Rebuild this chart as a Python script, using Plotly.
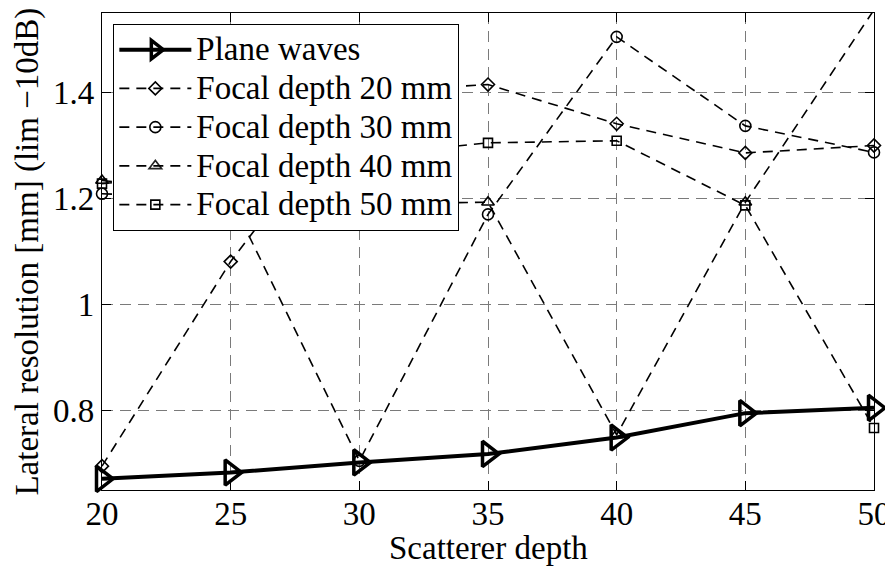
import plotly.graph_objects as go

# Data
depth = [20, 25, 30, 35, 40, 45, 50]
plane_waves = [0.671, 0.683, 0.702, 0.718, 0.749, 0.795, 0.805]
focal_20 = [0.695, 1.081, 1.400, 1.415, 1.341, 1.286, 1.300]
focal_30 = [1.209, 1.200, 0.705, 1.170, 1.505, 1.337, 1.287]
focal_40 = [1.234, 1.210, 1.190, 1.193, 0.754, 1.193, 1.556]
focal_50 = [1.228, 1.250, 1.280, 1.305, 1.309, 1.187, 0.767]

series_names = ["Plane waves", "Focal depth 20 mm", "Focal depth 30 mm",
                "Focal depth 40 mm", "Focal depth 50 mm"]
y_range = [0.65, 1.55]
x_range = [20, 50]
y_ticks = [0.8, 1.0, 1.2, 1.4]
y_tick_text = ["0.8", "1", "1.2", "1.4"]
x_ticks = [20, 25, 30, 35, 40, 45, 50]
x_title = "Scatterer depth"
y_title = "Lateral resolution [mm] (lim \u221210dB)"

FONT = "Liberation Serif"
DASH = "10px,7px"


def legend_label(text):
    return '<span style="font-size:33px">' + text + '</span>'


def visible(vals):
    # markers of points outside the axis range are clipped, as in the reference
    return [1 if y_range[0] <= v <= y_range[1] else 0 for v in vals]


fig = go.Figure()

fig.add_trace(go.Scatter(
    x=depth, y=plane_waves, name=legend_label(series_names[0]), mode="lines+markers",
    line=dict(color="black", width=4),
    marker=dict(symbol="triangle-right-open", size=22, color="black",
                line=dict(color="black", width=3.5)),
    cliponaxis=False,
))

focal_series = [
    (series_names[1], focal_20, "diamond-open", 10),
    (series_names[2], focal_30, "circle-open", 11),
    (series_names[3], focal_40, "triangle-up-open", 11),
    (series_names[4], focal_50, "square-open", 9),
]
for name, vals, sym, sz in focal_series:
    fig.add_trace(go.Scatter(
        x=depth, y=vals, name=legend_label(name), mode="lines+markers",
        line=dict(color="black", width=1.6, dash=DASH),
        marker=dict(symbol=sym, size=sz, color="black", opacity=visible(vals),
                    line=dict(color="black", width=1.6)),
        cliponaxis=False,
    ))

axis_common = dict(
    showline=True, linecolor="black", linewidth=1.3, mirror="ticks",
    ticks="inside", ticklen=9, tickwidth=1.3, tickcolor="black",
    showgrid=True, gridcolor="#7a7a7a", gridwidth=1.2, griddash="11px,7px",
    zeroline=False, automargin=False,
    tickfont=dict(family=FONT, size=33, color="black"),
)

fig.update_xaxes(range=x_range, tickvals=x_ticks, ticklabelstandoff=-6, **axis_common)
fig.update_yaxes(range=y_range, tickvals=y_ticks, ticktext=y_tick_text, **axis_common)

fig.add_annotation(
    text=x_title, xref="paper", yref="paper", x=0.5, y=-0.1216,
    xanchor="center", yanchor="middle", showarrow=False,
    font=dict(family=FONT, size=33, color="black"),
)
fig.add_annotation(
    text=y_title, xref="paper", yref="paper", x=-0.0971, y=0.5,
    xanchor="center", yanchor="middle", showarrow=False, textangle=-90,
    font=dict(family=FONT, size=33, color="black"),
)

# The page body has an 8px default margin, so the figure is shrunk by 8px
# and its left/top margins reduced to keep the plot area where the reference has it.
fig.update_layout(
    width=885, height=564,
    margin=dict(l=94, r=19, t=5, b=82),
    paper_bgcolor="white", plot_bgcolor="white",
    font=dict(family=FONT, size=33, color="black"),
    showlegend=True,
    legend=dict(
        x=0.0143, y=0.977, xanchor="left", yanchor="top",
        bgcolor="white", bordercolor="black", borderwidth=1.3,
        font=dict(family=FONT, size=27.5, color="black"),
        itemwidth=72, tracegroupgap=0,
    ),
)

fig.write_html("out.html")
